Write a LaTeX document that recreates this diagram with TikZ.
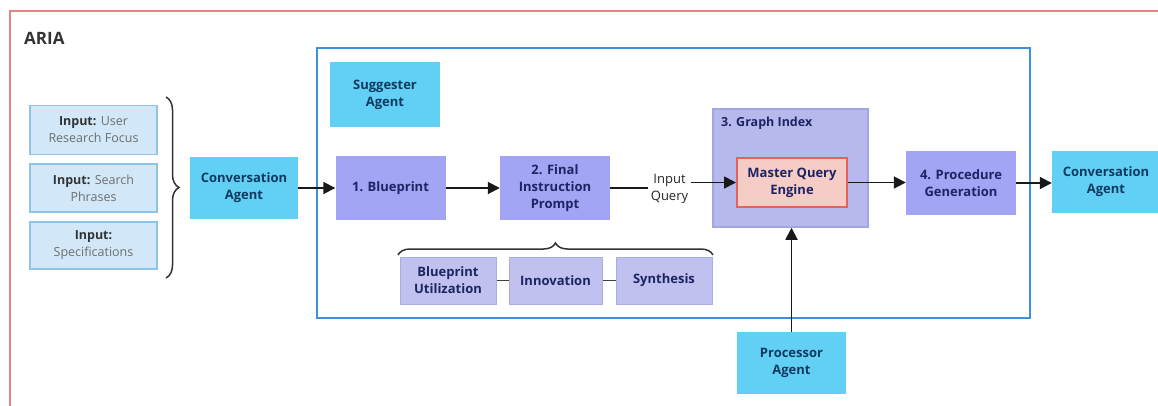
\documentclass[tikz,border=0pt]{standalone}
\usepackage{fontspec}
\setmainfont{Open Sans}
\usetikzlibrary{arrows.meta,decorations.pathreplacing}
\definecolor{agentfill}{HTML}{62CFF4}
\definecolor{stepfill}{HTML}{A2A4F4}
\definecolor{gifill}{HTML}{B7B9EC}
\definecolor{giborder}{HTML}{A3A6E4}
\definecolor{subfill}{HTML}{C0C1EE}
\definecolor{subborder}{HTML}{ABADE2}
\definecolor{mqefill}{HTML}{F6CCC6}
\definecolor{mqeborder}{HTML}{E5625C}
\definecolor{infill}{HTML}{D2E8F8}
\definecolor{inborder}{HTML}{8EC4EA}
\definecolor{bluefr}{HTML}{3F90DC}
\definecolor{redfr}{HTML}{E28585}
\definecolor{agtxt}{HTML}{0E3A60}
\definecolor{sttxt}{HTML}{1C2463}
\definecolor{graytxt}{HTML}{6E6E6E}
\definecolor{darktxt}{HTML}{333333}
\tikzset{
  box/.style={draw=none, align=center, inner sep=0pt, font=\fontsize{13}{17}\selectfont\bfseries},
  agent/.style={box, fill=agentfill, text=agtxt},
  stepbox/.style={box, fill=stepfill, text=sttxt},
  subbox/.style={box, fill=subfill, draw=subborder, line width=1pt, text=sttxt},
  inbox/.style={box, fill=infill, draw=inborder, line width=1.5pt, font=\fontsize{12.5}{17}\selectfont, text=graytxt},
  arr/.style={-{Triangle[length=12pt,width=12pt]}, line width=1.8pt, draw=black!90},
  plain/.style={line width=1.8pt, draw=black!90},
  brc/.style={decorate, line width=1.5pt, draw=black!80},
}
\begin{document}
\begin{tikzpicture}[x=1pt,y=-1pt]
\useasboundingbox (0,0) rectangle (1158,405);
\clip (0,0) rectangle (1158,405);
\fill[white] (0,0) rectangle (1158,405);
% outer frame
\draw[redfr, line width=2pt] (10,11) rectangle (1175,420);
\node[anchor=west, font=\fontsize{17}{20}\selectfont\bfseries, text=black!80, inner sep=0pt] (aria) at (24,38) {ARIA};
% inner frame
\draw[bluefr, line width=2pt] (317,48) rectangle (1030,318);

% inputs
\node[inbox, minimum width=127pt, minimum height=49pt] (in1) at (93.5,130) {\textcolor{darktxt}{\bfseries Input:} User\\Research Focus};
\node[inbox, minimum width=127pt, minimum height=48pt] (in2) at (93.5,188) {\textcolor{darktxt}{\bfseries Input:} Search\\Phrases};
\node[inbox, minimum width=127pt, minimum height=47pt] (in3) at (93.5,245.5) {\textcolor{darktxt}{\bfseries Input:}\\Specifications};
\draw[brc, decoration={brace, amplitude=13pt}] (166,97) -- (166,278);

\node[agent, minimum width=108pt, minimum height=62pt] (conv1) at (244,188) {Conversation\\Agent};
\node[agent, minimum width=110pt, minimum height=65pt] (sugg) at (385,94.5) {Suggester\\Agent};
\node[stepbox, minimum width=110pt, minimum height=64pt] (bp) at (390.5,188) {1. Blueprint};
\node[stepbox, minimum width=110pt, minimum height=64pt] (fip) at (555,188) {2. Final\\Instruction\\Prompt};
\node[font=\fontsize{13}{17}\selectfont, text=black!85, align=center, inner sep=3pt] (iq) at (669.5,189) {Input\\Query};

% graph index
\node[draw=giborder, fill=gifill, line width=1.5pt, minimum width=155pt, minimum height=118pt, inner sep=0pt] (gi) at (790.5,168) {};
\node[anchor=west, font=\fontsize{12.5}{14}\selectfont\bfseries, text=sttxt, inner sep=0pt] (gil) at (721,123) {3. Graph Index};
\node[box, fill=mqefill, draw=mqeborder, line width=2pt, text=sttxt, minimum width=110pt, minimum height=49pt] (mqe) at (792,182.5) {Master Query\\Engine};
\node[stepbox, minimum width=110pt, minimum height=64pt] (proc) at (961,183) {4. Procedure\\Generation};
\node[agent, minimum width=108pt, minimum height=62pt] (conv2) at (1106,182) {Conversation\\Agent};
\node[agent, minimum width=109pt, minimum height=62pt] (procag) at (791.5,363) {Processor\\Agent};

% sub boxes
\node[subbox, minimum width=96pt, minimum height=47pt] (bu) at (448,280.5) {Blueprint\\Utilization};
\node[subbox, minimum width=93pt, minimum height=47pt] (inn) at (555.5,280.5) {Innovation};
\node[subbox, minimum width=96pt, minimum height=47pt] (syn) at (664,280.5) {Synthesis};
\draw[line width=1.3pt, draw=black!75] (bu) -- (inn);
\draw[line width=1.3pt, draw=black!75] (inn) -- (syn);
\draw[brc, decoration={brace, amplitude=12pt}] (398,255) -- (713,255);

% connectors
\draw[arr] (conv1) -- (bp);
\draw[arr] (bp) -- (fip);
\draw[plain] (fip.east) -- (fip.east -| iq.west);
\draw[arr] (iq.east |- mqe.west) -- (mqe.west);
\draw[arr] (mqe.east) -- (mqe.east -| proc.west);
\draw[arr] (proc.east) -- (proc.east -| conv2.west);
\draw[arr] (procag.north) -- (procag.north |- gi.south);
\end{tikzpicture}
\end{document}
